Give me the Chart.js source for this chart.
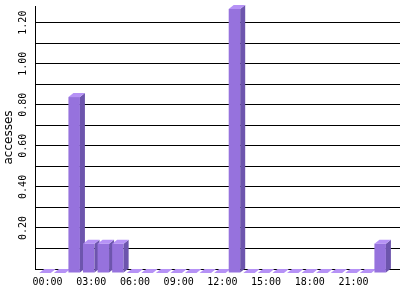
<!DOCTYPE html>
<html>
<head>
<meta charset="utf-8">
<script src="https://cdn.jsdelivr.net/npm/chart.js@4/dist/chart.umd.min.js"></script>
<style>
  html, body { margin: 0; padding: 0; background: #fff; }
  #wrap { width: 400px; height: 300px; }
</style>
</head>
<body>
<div id="wrap"><canvas id="accessChart"></canvas></div>
<script>
// hour of day (one bar per hour)
const hours = ['00:00', '01:00', '02:00', '03:00', '04:00', '05:00', '06:00', '07:00',
    '08:00', '09:00', '10:00', '11:00', '12:00', '13:00', '14:00', '15:00',
    '16:00', '17:00', '18:00', '19:00', '20:00', '21:00', '22:00', '23:00'];
// average accesses per hour
const accesses = [0, 0, 0.857, 0.143, 0.143, 0.143, 0, 0, 0, 0, 0, 0,
    0, 1.286, 0, 0, 0, 0, 0, 0, 0, 0, 0, 0.143];
// which hours get a label on the x axis
const labelHours = [0, 3, 6, 9, 12, 15, 18, 21];
// horizontal grid lines (every other one gets a label)
const gridValues = [0, 0.1, 0.2, 0.3, 0.4, 0.5, 0.6, 0.7, 0.8, 0.9, 1.0, 1.1, 1.2];

const FRONT = '#9672dd';
const TOP = '#b692f6';
const SIDE = '#6d55ad';
const DX = 5;   // depth of the fake 3d box
const DY = 4;

// draws every bar as a little box, using the positions chart.js worked out
const boxBars = {
    id: 'boxBars',
    afterDatasetsDraw(chart) {
        const ctx = chart.ctx;
        chart.getDatasetMeta(0).data.forEach(bar => {
            const w = bar.width;
            const left = bar.x - (w + DX) / 2;
            const right = left + w;
            const top = bar.y + DY;
            const bottom = bar.base + DY;

            ctx.save();
            // front
            if (bottom - top > 0.5) {
                ctx.fillStyle = FRONT;
                ctx.fillRect(left, top, w, bottom - top);
                // side
                ctx.fillStyle = SIDE;
                ctx.beginPath();
                ctx.moveTo(right, top);
                ctx.lineTo(right + DX, top - DY);
                ctx.lineTo(right + DX, bottom - DY);
                ctx.lineTo(right, bottom);
                ctx.closePath();
                ctx.fill();
            }
            // top
            ctx.fillStyle = TOP;
            ctx.beginPath();
            ctx.moveTo(left, top);
            ctx.lineTo(left + DX, top - DY);
            ctx.lineTo(right + DX, top - DY);
            ctx.lineTo(right, top);
            ctx.closePath();
            ctx.fill();
            ctx.restore();
        });
    }
};

const ctx = document.getElementById('accessChart').getContext('2d');

new Chart(ctx, {
    type: 'bar',
    data: {
        datasets: [{
            label: 'accesses',
            data: accesses.map((v, i) => ({ x: i, y: v })),
            backgroundColor: 'rgba(0,0,0,0)',
            barThickness: 11.5
        }]
    },
    options: {
        responsive: true,
        maintainAspectRatio: false,
        animation: false,
        layout: { padding: 0 },
        plugins: {
            legend: { display: false },
            tooltip: { enabled: false }
        },
        scales: {
            x: {
                type: 'linear',
                min: -0.86,
                max: 24.19,
                offset: false,
                afterBuildTicks: scale => {
                    scale.ticks = labelHours.map(h => ({ value: h }));
                },
                afterFit: scale => { scale.height = 31; },
                ticks: {
                    autoSkip: false,
                    maxRotation: 0,
                    padding: 7,
                    color: '#000',
                    font: { family: 'DejaVu Sans Mono', size: 10 },
                    callback: value => hours[value]
                },
                grid: { display: false, drawTicks: false },
                border: { display: true, color: '#000', width: 1 }
            },
            y: {
                min: 0,
                max: 1.281,
                afterBuildTicks: scale => {
                    scale.ticks = gridValues.map(v => ({ value: v }));
                },
                afterFit: scale => { scale.width = 35; },
                ticks: {
                    autoSkip: false,
                    minRotation: 90,
                    maxRotation: 90,
                    crossAlign: 'center',
                    padding: 0,
                    color: '#000',
                    font: { family: 'DejaVu Sans Mono', size: 10 },
                    callback: value => {
                        const tenth = Math.round(value * 10);
                        return (tenth > 0 && tenth % 2 === 0) ? value.toFixed(2) : '';
                    }
                },
                grid: { color: '#000', lineWidth: 1, drawTicks: false },
                border: { display: true, color: '#000', width: 1 },
                title: {
                    display: true,
                    text: 'accesses',
                    color: '#000',
                    padding: 2,
                    font: { family: 'DejaVu Sans', size: 12 }
                }
            }
        }
    },
    plugins: [boxBars]
});
</script>
</body>
</html>
